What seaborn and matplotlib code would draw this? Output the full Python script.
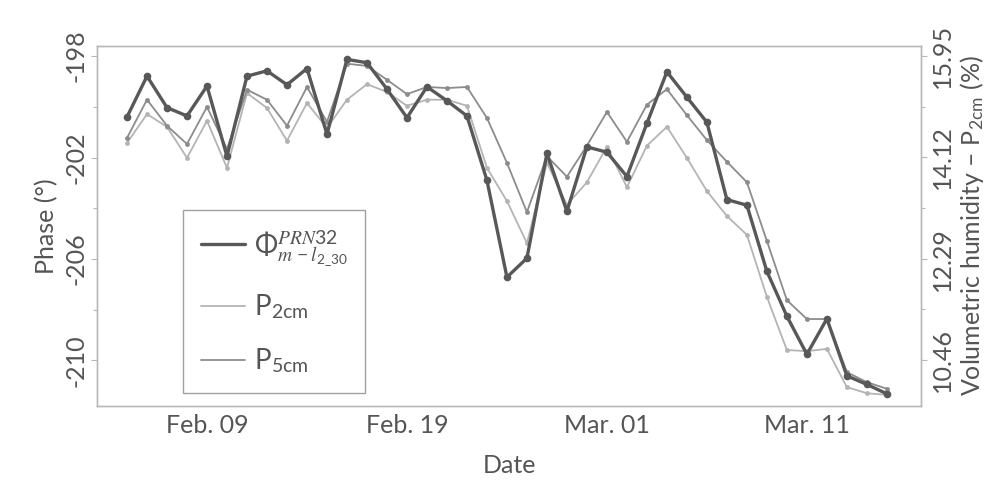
import numpy as np
import pandas as pd
import matplotlib
matplotlib.use("Agg")
import matplotlib.pyplot as plt
import matplotlib.dates as mdates
from matplotlib.lines import Line2D
import seaborn as sns

# daily samples, Feb 05 -> Mar 15
dates = pd.date_range("2019-02-05", "2019-03-15", freq="D")

# phase of PRN32 (deg), left axis
phase = [-200.40, -198.79, -200.03, -200.36, -199.18, -201.95, -198.79, -198.58,
         -199.13, -198.49, -201.08, -198.13, -198.26, -199.30, -200.43, -199.21,
         -199.76, -200.36, -202.90, -206.72, -205.97, -201.84, -204.12, -201.58,
         -201.79, -202.75, -200.65, -198.62, -199.62, -200.61, -203.66, -203.88,
         -206.49, -208.26, -209.76, -208.36, -210.61, -210.95, -211.32]

# volumetric humidity (%), right axis
p2cm = [14.38, 14.90, 14.67, 14.11, 14.78, 13.93, 15.28, 15.01, 14.42, 15.10,
        14.65, 15.16, 15.44, 15.30, 15.05, 15.16, 15.16, 15.05, 13.93, 13.33,
        12.57, 14.02, 13.26, 13.67, 14.31, 13.58, 14.33, 14.67, 14.11, 13.51,
        13.06, 12.72, 11.60, 10.64, 10.62, 10.66, 9.97, 9.86, 9.83]
p5cm = [14.47, 15.16, 14.69, 14.36, 15.03, 14.27, 15.34, 15.16, 14.69, 15.39,
        14.76, 15.81, 15.77, 15.52, 15.26, 15.39, 15.37, 15.39, 14.83, 14.02,
        13.13, 14.14, 13.77, 14.33, 14.94, 14.40, 15.07, 15.35, 14.88, 14.43,
        14.04, 13.67, 12.61, 11.54, 11.20, 11.20, 10.24, 10.06, 9.94]

phase_ticks = [-210, -206, -202, -198]
hum_ticks = [10.46, 12.29, 14.12, 15.95]
date_ticks = ["2019-02-09", "2019-02-19", "2019-03-01", "2019-03-11"]

df = pd.DataFrame({"date": dates, "phase": phase, "p2cm": p2cm, "p5cm": p5cm})

sns.set_style("white")
plt.rcParams["font.family"] = ["Lato", "DejaVu Sans"]
plt.rcParams["axes.unicode_minus"] = False
# upright parts of mathtext in Lato, italic parts in a serif italic
plt.rcParams["mathtext.fontset"] = "custom"
plt.rcParams["mathtext.rm"] = "Lato"
plt.rcParams["mathtext.it"] = "STIXGeneral:italic"
plt.rcParams["mathtext.bf"] = "Lato:bold"
plt.rcParams["mathtext.fallback"] = "stix"

c_dark, c_mid, c_light = "#585858", "#8c8c8c", "#b4b4b4"
txt = "#555555"

fig = plt.figure(figsize=(9.97, 4.96), dpi=100)
ax = fig.add_axes([0.0973, 0.1815, 0.8265, 0.7258])
ax2 = ax.twinx()

sns.lineplot(data=df, x="date", y="p2cm", ax=ax2, color=c_light, lw=1.3,
             marker="o", markersize=3.5, markeredgewidth=0)
sns.lineplot(data=df, x="date", y="p5cm", ax=ax2, color=c_mid, lw=1.3,
             marker="o", markersize=3.5, markeredgewidth=0)
sns.lineplot(data=df, x="date", y="phase", ax=ax, color=c_dark, lw=2.4,
             marker="o", markersize=5.5, markeredgewidth=0, zorder=5)
ax.set_zorder(ax2.get_zorder() + 1)
ax.patch.set_visible(False)

ax.set_xlim(pd.Timestamp("2019-02-05") - pd.Timedelta(hours=36),
            pd.Timestamp("2019-03-15") + pd.Timedelta(hours=41))
ax.set_ylim(-211.8, -197.6)
ax2.set_ylim(9.63, 16.13)

ax.set_yticks(phase_ticks)
ax.set_yticks([-208, -204, -200], minor=True)
ax2.set_yticks(hum_ticks)
ax2.set_yticks([11.375, 13.205, 15.035], minor=True)
ax.set_xticks(pd.to_datetime(date_ticks))
ax.xaxis.set_major_formatter(mdates.DateFormatter("%b. %d"))

for a in (ax, ax2):
    for s in a.spines.values():
        s.set_color("#b8b8b8")
        s.set_linewidth(1.0)
    a.tick_params(axis="both", which="major", length=4, width=0.8, color="#b8b8b8",
                  labelcolor=txt, labelsize=18, pad=3)
    a.tick_params(axis="y", which="minor", length=3, width=0.8, color="#b8b8b8")
    for lab in a.get_yticklabels():
        lab.set_rotation(90)
        lab.set_va("center")

ax.tick_params(axis="x", length=0, pad=6)
ax.set_xlabel("Date", fontsize=18, color=txt, labelpad=12)
ax.set_ylabel("Phase (°)", fontsize=18, color=txt, labelpad=4)
ax2.set_ylabel("Volumetric humidity – P$_{\\mathrm{2cm}}$ (%)", fontsize=18,
               color=txt, rotation=90, labelpad=3)

handles = [Line2D([], [], color=c_dark, lw=2.4), Line2D([], [], color=c_light, lw=1.3),
           Line2D([], [], color=c_mid, lw=1.3)]
labels = ["$\\Phi^{\\mathit{PRN32}}_{m\\,-l_{2\\_30}}$", "P$_{\\mathrm{2cm}}$",
          "P$_{\\mathrm{5cm}}$"]
leg = ax.legend(handles, labels, loc="lower left", bbox_to_anchor=(0.104, 0.036),
                borderaxespad=0, fontsize=20, frameon=True, fancybox=False,
                handlelength=1.6, handletextpad=0.3, labelspacing=0.9, borderpad=0.65)
leg.get_frame().set_edgecolor("#8a8a8a")
leg.get_frame().set_linewidth(1.0)
for t in leg.get_texts():
    t.set_color(txt)

fig.savefig("out.png", dpi=100, facecolor="white")
